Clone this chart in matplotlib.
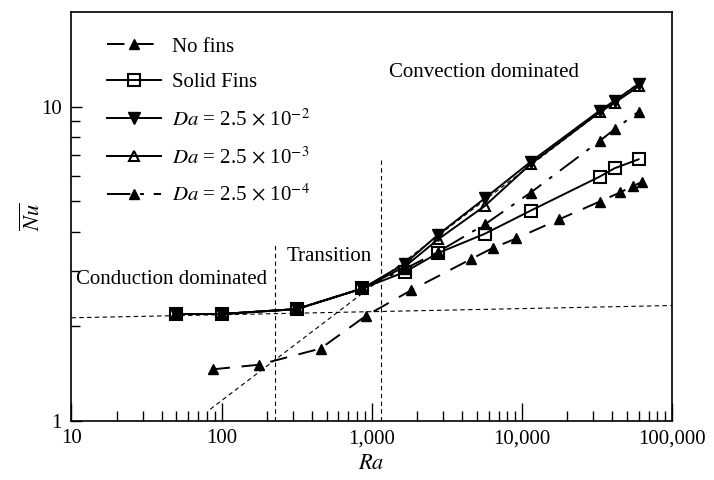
import numpy as np
import matplotlib
matplotlib.use("Agg")
import matplotlib.pyplot as plt
from matplotlib.ticker import FixedLocator, NullFormatter

plt.rcParams['font.family'] = ['Liberation Serif', 'DejaVu Serif']
plt.rcParams['mathtext.fontset'] = 'stix'

# Average Nusselt number vs Rayleigh number
ra_nofins = [87, 177, 456, 914, 1840, 4620, 6390, 9200, 17700, 33000, 45300, 55000, 63500]
nu_nofins = [1.46, 1.51, 1.70, 2.16, 2.61, 3.28, 3.55, 3.81, 4.38, 4.99, 5.34, 5.59, 5.77]

ra_fins = [50, 100, 316, 866, 1665, 2760, 5660, 11460, 33000, 41500, 60000]
nu_solid = [2.19, 2.19, 2.27, 2.64, 2.98, 3.42, 3.94, 4.67, 5.99, 6.37, 6.80]
nu_da2 = [2.19, 2.19, 2.27, 2.64, 3.17, 3.91, 5.11, 6.68, 9.71, 10.45, 11.8]
nu_da3 = [2.19, 2.19, 2.27, 2.64, 3.10, 3.78, 4.83, 6.57, 9.60, 10.3, 11.6]
nu_da4 = [2.19, 2.19, 2.27, 2.64, 3.05, 3.45, 4.22, 5.33, 7.78, 8.47, 9.64]

# regime guide lines
ra_cond = [10, 100000]
nu_cond = [2.13, 2.33]
ra_conv = [84, 60000]
nu_conv = [1.09, 11.9]
ra_split = [226, 1145]
nu_split_top = [3.63, 6.77]

fig = plt.figure(figsize=(7.14, 4.80), dpi=100)
ax = fig.add_axes([0.1001, 0.1229, 0.841, 0.852])

ax.plot(ra_cond, nu_cond, color='black', lw=0.8, dashes=(4, 3))
ax.plot(ra_conv, nu_conv, color='black', lw=0.8, dashes=(4, 3))
for r, top in zip(ra_split, nu_split_top):
    ax.plot([r, r], [1, top], color='black', lw=0.8, dashes=(4, 3))

ax.plot(ra_nofins, nu_nofins, color='black', lw=1.4, dashes=(9, 6),
        marker='^', ms=7, mfc='black', label='No fins')
ax.plot(ra_fins, nu_solid, color='black', lw=1.4, marker='s', ms=8,
        mfc='none', mew=1.5, label='Solid Fins')
ax.plot(ra_fins, nu_da2, color='black', lw=1.4, marker='v', ms=8.5,
        mfc='black', label=r'$Da$ = 2.5 $\times$ 10$^{-2}$')
ax.plot(ra_fins, nu_da3, color='black', lw=1.4, marker='^', ms=7.5,
        mfc='none', mew=1.5, label=r'$Da$ = 2.5 $\times$ 10$^{-3}$')
ax.plot(ra_fins, nu_da4, color='black', lw=1.4, dashes=(12, 5, 2, 5),
        marker='^', ms=7, mfc='black', label=r'$Da$ = 2.5 $\times$ 10$^{-4}$')

ax.set_xscale('log')
ax.set_yscale('log')
ax.set_xlim(10, 100000)
ax.set_ylim(1, 20)

ax.xaxis.set_major_locator(FixedLocator([10, 100, 1000, 10000, 100000]))
ax.set_xticklabels(['10', '100', '1,000', '10,000', '100,000'])
xminor = [m * 10 ** e for e in range(1, 5) for m in range(2, 10)]
ax.xaxis.set_minor_locator(FixedLocator(xminor))
ax.xaxis.set_minor_formatter(NullFormatter())
ax.yaxis.set_major_locator(FixedLocator([1, 10]))
ax.set_yticklabels(['1', '10'])
ax.yaxis.set_minor_locator(FixedLocator(list(range(2, 10))))
ax.yaxis.set_minor_formatter(NullFormatter())

ax.tick_params(axis='x', which='major', direction='in', length=13, width=1,
               labelsize=15, pad=6)
ax.tick_params(axis='x', which='minor', direction='in', length=7, width=1)
ax.tick_params(axis='y', which='major', direction='in', length=8, width=1,
               labelsize=15, pad=7)
ax.tick_params(axis='y', which='minor', direction='in', length=6.5, width=1)
for s in ax.spines.values():
    s.set_linewidth(1.2)

ax.set_xlabel('$Ra$', fontsize=16, labelpad=5)
ax.set_ylabel(r'$\overline{Nu}$', fontsize=16, labelpad=-3)

ax.text(0.0075, 0.345, 'Conduction dominated', transform=ax.transAxes,
        fontsize=15, va='center', ha='left')
ax.text(0.359, 0.403, 'Transition', transform=ax.transAxes,
        fontsize=15, va='center', ha='left')
ax.text(0.687, 0.851, 'Convection dominated', transform=ax.transAxes,
        fontsize=15, va='center', ha='center')

ax.legend(loc='upper left', bbox_to_anchor=(0.028, 0.985), frameon=False,
          fontsize=15, handlelength=2.6, handletextpad=0.5, labelspacing=0.78)

fig.savefig('out.png', dpi=100)
